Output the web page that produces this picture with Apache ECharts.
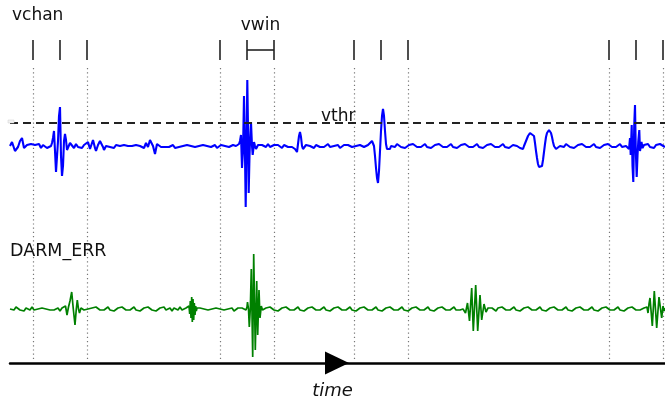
<!DOCTYPE html>
<html><head><meta charset="utf-8">
<script src="https://cdn.jsdelivr.net/npm/echarts@6/dist/echarts.min.js"></script>
<style>html,body{margin:0;padding:0;background:#fff}#c{width:665px;height:401px}</style>
</head><body><div id="c"></div>
<script>
// ---- data (time in ms, amplitude in arbitrary units) ----
const tickTimes = [23, 50, 77, 210, 237, 264, 344, 371, 398, 599, 626, 653];
const windowEdges = [23, 77, 210, 264, 344, 398, 599, 653];
const vwinSpan = [237, 264];
const vthr = 23;
const labels = { chan: 'vchan', win: 'vwin', thr: 'vthr', darm: 'DARM_ERR', time: 'time' };

const blueSignal = [
 [0,0],[2,4],[3,5],[5,-5],[6,-6],[8,-1],[10,5],[12,8],[14,-2],[15,-4],[17,1],[19,-1],[21,2],[23,0],[25,1],[27,-1],[29,2],[31,-2],[33,1],[35,0],[37,-2],[39,-1],[41,0],
 [42,3],[43,8],[44,15],[45,-5],[46,-26],[47,-28],[48,5],[49,30],[50,39],[51,-10],[52,-30],[53,-20],[54,5],[55,12],[56,6],[57,-4],[58,-6],[59,-2],
 [60,3],[62,1],[64,-2],[66,2],[68,-1],[70,0],[72,-2],[74,1],[76,-1],[78,4],[79,2],[80,-3],[82,3],[83,6],[85,-2],[86,-5],[88,1],[90,5],[91,7],[93,-1],[94,-4],[96,0],[98,2],[100,-1],
 [102,0],[104,-2],[106,1],[108,-1],[110,0],[112,-2],[114,1],[116,-1],[118,0],[120,-2],[122,0],[124,-1],[126,1],[128,-1],[130,0],[132,2],[134,-2],[136,3],[138,-1],
 [140,6],[141,8],[143,0],[145,-8],[147,2],[149,3],[151,-1],[153,0],[155,-1],[157,1],[159,-1],[161,0],[163,1],[165,-2],[167,0],[169,-1],[171,1],[173,0],[175,-1],[177,1],[179,-1],[181,0],[183,2],[185,-1],[187,1],[189,0],[191,-2],[193,1],[195,-1],[197,0],[199,1],[201,-1],[203,0],[205,1],[207,-2],[209,0],[211,1],[213,-1],[215,0],[217,1],[219,-1],[221,0],[223,1],[225,-1],[226,0],[228,-1],
 [229,2],[230,5],[231,11],[232,-22],[233,-5],[234,50],[235,-10],[235.7,-61],[236.5,0],[237.3,66],[238,20],[238.7,-47],[239.5,-10],[240,5],[241,24],[242,0],[242.7,-9],[243.5,-2],[244,4],[245,0],[246,-3],
 [248,1],[250,-1],[252,1],[254,0],[256,-1],[258,2],[260,-1],[262,0],[264,1],[266,-1],[268,1],[270,0],[272,-2],[274,1],[276,0],[278,-1],[280,1],[282,-1],
 [284,-1],[285,-3],[286,-5],[287,-6],[288,2],[289,10],[290,14],[291,9],[292,0],[293,-3],[294,-1],
 [296,1],[298,-1],[300,0],[302,1],[304,-2],[306,1],[308,0],[310,-1],[312,1],[314,-1],[316,0],[318,2],[320,-1],[322,1],[324,0],[326,-1],[328,1],[330,-2],[332,0],[334,1],[336,-1],[338,1],[340,0],[342,-1],[344,1],[346,0],[348,-2],[350,1],[352,0],[354,-1],[356,1],
 [358,1],[360,3],[362,5],[363,4],[364,0],[365,-10],[366,-22],[367,-32],[368,-37],[369,-25],[370,-5],[371,15],[372,30],[373,37],[374,30],[375,15],[376,2],[377,-3],[378,-4],[380,-3],[381,0],
 [383,1],[385,-1],[387,2],[389,0],[391,-1],[393,1],[395,-2],[397,0],[399,1],[401,-1],[403,2],[405,0],[407,-1],[409,1],[411,-1],[413,0],[415,2],[417,-1],[419,1],[421,-2],[423,0],[425,1],[427,-1],[429,2],[431,0],[433,-1],[435,1],[437,-1],[439,0],[441,2],[443,-1],[445,1],[447,-2],[449,0],[451,1],[453,-1],[455,2],[457,0],[459,-1],[461,1],[463,-1],[465,0],[467,2],[469,-1],[471,1],[473,-2],[475,0],[477,1],[479,-1],[481,2],[483,0],[485,-1],[487,1],[489,-1],[491,0],[493,2],[495,-1],[497,1],[499,-2],[501,0],[503,1],[505,-1],[507,0],
 [508,0],[510,-2],[512,-4],[513,-3],[514,0],[516,5],[518,10],[520,13],[522,14],[524,10],[525,3],[526,-5],[527,-12],[528,-18],[529,-21],[530,-23],[531,-23],[532,-20],[533,-14],[534,-6],[535,2],[536,9],[537,13],[538,15],[539,16],[540,15],[541,13],[542,9],[543,4],[544,0],[545,-2],[546,-3],[548,-2],[550,0],
 [552,1],[554,-1],[556,2],[558,0],[560,-1],[562,1],[564,-2],[566,0],[568,1],[570,-1],[572,2],[574,0],[576,-1],[578,1],[580,-1],[582,0],[584,2],[586,-1],[588,1],[590,-2],[592,0],[594,1],[596,-1],[598,2],[600,0],[602,-1],[604,1],[606,-1],[608,0],[610,2],[612,-1],[614,1],[616,0],
 [617,0],[618,2],[619,-3],[620,8],[620.7,-9],[621.7,21],[622.5,-20],[623.3,-36],[624.2,20],[625,41],[625.8,-5],[626.7,-31],[627.5,-10],[628.3,5],[629.3,16],[630,-5],[630.8,-6],[631.5,4],[632.5,-2],
 [634,1],[636,-1],[638,2],[640,-1],[642,1],[644,-2],[646,1],[648,-1],[650,2],[652,0],[655,-1]
];

const greenSignal = [
 [0,0],[2,1],[4,-1],[6,2],[8,0],[10,-1],[12,1],[14,-2],[16,1],[18,0],[20,-1],[22,2],[24,-1],[26,1],[28,0],[30,-2],[32,1],[34,-1],[36,0],[38,2],[40,-1],[42,1],[44,-1],[46,0],[48,1],[50,-2],[52,1],
 [54,0],[55.5,3],[57,-6],[58.5,2],[60,8],[61.7,17],[63.3,0],[65,-16],[66.3,0],[67.3,9],[68.5,0],[69.5,-4],[71,1],[72,0],
 [74,-1],[76,1],[78,0],[80,-2],[82,1],[84,-1],[86,2],[88,0],[90,-1],[92,1],[94,-1],[96,0],[98,2],[100,-1],[102,1],[104,-2],[106,0],[108,1],[110,-1],[112,2],[114,0],[116,-1],[118,1],[120,-1],[122,0],[124,2],[126,-1],[128,1],[130,-2],[132,0],[134,1],[136,-1],[138,2],[140,0],[142,-1],[144,1],[146,-2],[148,0],[150,1],[152,-1],[154,2],[156,-1],[158,0],[160,1],[162,-2],[164,1],[166,0],[168,-1],[170,2],[172,-1],[174,0],[176,1],[178,0],
 [179,3],[179.7,-5],[180.3,8],[181,-9],[181.7,12],[182.3,-13],[183,10],[183.7,-11],[184.3,6],[185,-6],[185.7,3],[186.3,-2],[187,1],[188,-1],
 [190,1],[192,-1],[194,0],[196,2],[198,-1],[200,1],[202,0],[204,-2],[206,1],[208,-1],[210,0],[212,2],[214,-1],[216,1],[218,0],[220,-1],[222,1],[224,-2],[226,0],[228,1],[230,-1],[232,1],[234,0],[236,-1],
 [237,2],[237.5,7],[238.5,0],[239.3,-18],[240.3,0],[241.3,40],[242.7,-48],[243.7,55],[245.3,-41],[246.7,28],[247.7,-26],[249,19],[250,-9],[251.3,3],[252.5,-1],[254,0],
 [256,1],[258,-1],[260,2],[262,0],[264,-1],[266,1],[268,-2],[270,0],[272,1],[274,-1],[276,2],[278,0],[280,-1],[282,1],[284,-1],[286,0],[288,2],[290,-1],[292,1],[294,-2],[296,0],[298,1],[300,-1],[302,2],[304,0],[306,-1],[308,1],[310,-1],[312,0],[314,2],[316,-1],[318,1],[320,-2],[322,0],[324,1],[326,-1],[328,2],[330,0],[332,-1],[334,1],[336,-1],[338,0],[340,2],[342,-1],[344,1],[346,-2],[348,0],[350,1],[352,-1],[354,2],[356,0],[358,-1],[360,1],[362,-1],[364,0],[366,2],[368,-1],[370,1],[372,-2],[374,0],[376,1],[378,-1],[380,2],[382,0],[384,-1],[386,1],[388,-1],[390,0],[392,2],[394,-1],[396,1],[398,-2],[400,0],[402,1],[404,-1],[406,2],[408,0],[410,-1],[412,1],[414,-1],[416,0],[418,2],[420,-1],[422,1],[424,-2],[426,0],[428,1],[430,-1],[432,2],[434,0],[436,-1],[438,1],[440,-1],[442,0],[444,2],[446,-1],[448,1],[450,-1],[452,0],
 [453,0],[455.5,-4],[457.5,6],[459.5,-12],[461.7,21],[463.3,-22],[465.7,24],[467.7,-22],[470,14],[471.7,-11],[474,5],[476,-3],[478,1],
 [480,-1],[482,1],[484,0],[486,-2],[488,1],[490,-1],[492,2],[494,0],[496,-1],[498,1],[500,-1],[502,0],[504,2],[506,-1],[508,1],[510,-2],[512,0],[514,1],[516,-1],[518,2],[520,0],[522,-1],[524,1],[526,-1],[528,0],[530,2],[532,-1],[534,1],[536,-2],[538,0],[540,1],[542,-1],[544,2],[546,0],[548,-1],[550,1],[552,-1],[554,0],[556,2],[558,-1],[560,1],[562,-2],[564,0],[566,1],[568,-1],[570,2],[572,0],[574,-1],[576,1],[578,-1],[580,0],[582,2],[584,-1],[586,1],[588,-2],[590,0],[592,1],[594,-1],[596,2],[598,0],[600,-1],[602,1],[604,-1],[606,0],[608,2],[610,-1],[612,1],[614,-2],[616,0],[618,1],[620,-1],[622,2],[624,0],[626,-1],[628,1],[630,-1],[632,0],[634,1],
 [635,0],[637,2],[638,-4],[639,5],[640,11],[642.3,-17],[644.3,18],[646.7,-19],[649,12],[651.7,-9],[653,3],[654,-2],[655,1]
];

// ---- chart ----
const chart = echarts.init(document.getElementById('c'), null, { renderer: 'canvas' });
const FONT = '"DejaVu Sans", "Noto Sans", sans-serif';
chart.setOption({
  animation: false,
  backgroundColor: '#fff',
  grid: { left: 10, right: 0, top: 0, bottom: 38, containLabel: false },
  xAxis: {
    type: 'value', min: 0, max: 655,
    axisLine: { show: true, onZero: false, lineStyle: { color: '#000', width: 2.5 } },
    axisTick: { show: false }, axisLabel: { show: false }, splitLine: { show: false }
  },
  yAxis: [
    { type: 'value', min: -217, max: 146, show: false, splitLine: { show: false } },
    { type: 'value', min: -54, max: 309, show: false, splitLine: { show: false } }
  ],
  series: [
    {
      name: 'vchan', type: 'line', yAxisIndex: 0, data: blueSignal, showSymbol: false, symbol: 'none',
      lineStyle: { color: '#0000ff', width: 2.1 }, z: 3,
      markLine: {
        silent: true, symbol: 'none', label: { show: false },
        lineStyle: { type: [8, 5], color: '#222', width: 1.8 },
        data: [{ yAxis: vthr }], z: 4
      }
    },
    {
      name: 'DARM_ERR', type: 'line', yAxisIndex: 1, data: greenSignal, showSymbol: false, symbol: 'none',
      lineStyle: { color: '#008000', width: 1.7 }, z: 3
    }
  ]
});

const px = t => chart.convertToPixel({ xAxisIndex: 0 }, t);
const g = [];
windowEdges.forEach(t => {
  const x = Math.round(px(t)) + 0.5;
  g.push({ type: 'line', silent: true, z: 1, shape: { x1: x, y1: 68, x2: x, y2: 360 },
    style: { stroke: '#777', lineWidth: 1.2, lineDash: [1.2, 3] } });
});
tickTimes.forEach(t => {
  const x = px(t);
  g.push({ type: 'line', silent: true, z: 5, shape: { x1: x, y1: 40, x2: x, y2: 60 },
    style: { stroke: '#222', lineWidth: 1.6 } });
});
g.push({ type: 'line', silent: true, z: 5, shape: { x1: px(vwinSpan[0]), y1: 50, x2: px(vwinSpan[1]), y2: 50 },
  style: { stroke: '#222', lineWidth: 1.6 } });
g.push({ type: 'rect', silent: true, z: 5, shape: { x: 8, y: 120, width: 6, height: 3 },
  style: { fill: '#f2f2f2', stroke: '#ccc', lineWidth: 0.5 } });
g.push({ type: 'polygon', silent: true, z: 6, shape: { points: [[325, 351.5], [325, 374.5], [349, 363]] },
  style: { fill: '#000' } });
const txt = (text, x, y, align, size, italic) => ({
  type: 'text', silent: true, z: 7,
  style: { text, x, y, fill: '#111', textAlign: align, textVerticalAlign: 'middle',
    font: (italic ? 'italic ' : '') + size + 'px ' + FONT }
});
g.push(txt(labels.chan, 12, 16, 'left', 17));
g.push(txt(labels.win, 260.5, 25.5, 'center', 17));
g.push(txt(labels.thr, 321, 117, 'left', 17));
g.push(txt(labels.darm, 10, 251.5, 'left', 17.5));
g.push(txt(labels.time, 332.5, 391.5, 'center', 18, true));
chart.setOption({ graphic: g });
</script>
</body></html>
